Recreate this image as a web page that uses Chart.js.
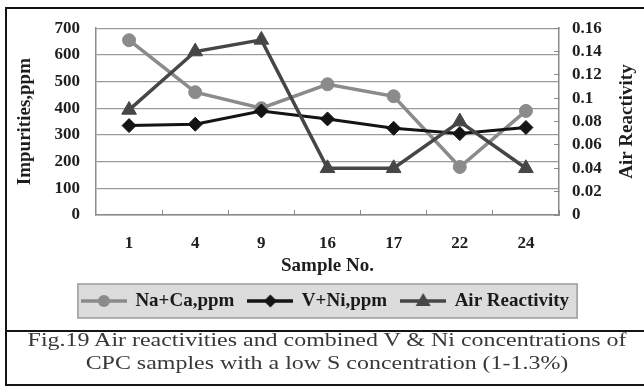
<!DOCTYPE html>
<html>
<head>
<meta charset="utf-8">
<script src="https://cdn.jsdelivr.net/npm/chart.js@4.4.1/dist/chart.umd.min.js"></script>
<style>
  html, body { margin: 0; padding: 0; background: #fff; }
  #wrap { position: relative; width: 644px; height: 386px; overflow: hidden; background: #fff; }
  #chart { position: absolute; left: 0; top: 0; }
  .rule { position: absolute; background: #141414; }
  #caption {
    position: absolute; left: 5px; width: 644px; top: 329px;
    text-align: center; color: #383838;
    font-family: 'Liberation Serif', 'Times New Roman', serif;
    font-size: 18px; line-height: 23px; white-space: nowrap;
    transform: scaleX(1.33); transform-origin: 50% 50%;
  }
</style>
</head>
<body>
<div id="wrap">
  <canvas id="chart" width="644" height="386"></canvas>
  <div class="rule" style="left:5px;top:7px;width:639px;height:2px"></div>
  <div class="rule" style="left:5px;top:7px;width:2px;height:379px"></div>
  <div class="rule" style="left:5px;top:330px;width:639px;height:2px"></div>
  <div class="rule" style="left:5px;top:384px;width:639px;height:2px"></div>
  <div id="caption">Fig.19 Air reactivities and combined V &amp; Ni concentrations of<br>CPC samples with a low S concentration (1-1.3%)</div>
</div>
<script>
// Sample numbers along the x axis
const sampleNos = ['1', '4', '9', '16', '17', '22', '24'];
// Impurities (ppm), left axis
const naCa = [655, 460, 400, 490, 445, 180, 390];
const vNi = [335, 340, 390, 360, 325, 305, 328];
// Air reactivity, right axis
const airReactivity = [0.09, 0.14, 0.15, 0.04, 0.04, 0.08, 0.04];
// Axis tick labels
const leftTickLabels = ['0', '100', '200', '300', '400', '500', '600', '700'];
const rightTickLabels = ['0', '0.02', '0.04', '0.06', '0.08', '0.1', '0.12', '0.14', '0.16'];

const SERIF = "'Liberation Serif', 'Times New Roman', serif";
const COL_NACA = '#8b8b8b';
const COL_VNI = '#141414';
const COL_AIR = '#464646';

Chart.defaults.font.family = SERIF;
Chart.defaults.color = '#1e1e1e';

// Small line-with-marker swatch used as a legend symbol
function swatch(color, style) {
  const c = document.createElement('canvas');
  c.width = 46; c.height = 18;
  const g = c.getContext('2d');
  g.strokeStyle = color; g.fillStyle = color; g.lineWidth = 3.5;
  g.beginPath(); g.moveTo(0, 9); g.lineTo(46, 9); g.stroke();
  g.beginPath();
  if (style === 'circle') {
    g.arc(23, 9, 6, 0, Math.PI * 2);
  } else if (style === 'diamond') {
    g.moveTo(23, 2.5); g.lineTo(29.5, 9); g.lineTo(23, 15.5); g.lineTo(16.5, 9); g.closePath();
  } else {
    g.moveTo(23, 1); g.lineTo(30.5, 14); g.lineTo(15.5, 14); g.closePath();
  }
  g.fill();
  return c;
}
const legendSymbols = [swatch(COL_NACA, 'circle'), swatch(COL_VNI, 'diamond'), swatch(COL_AIR, 'triangle')];

// Grey panel behind the legend row
const legendFrame = {
  id: 'legendFrame',
  beforeDraw(chart) {
    const hb = chart.legend && chart.legend.legendHitBoxes;
    if (!hb || !hb.length) return;
    const left = Math.min(...hb.map(h => h.left)) - 4;
    const right = Math.max(...hb.map(h => h.left + h.width)) + 8;
    const top = hb[0].top - 7.5;
    const bottom = hb[0].top + hb[0].height + 7.5;
    const ctx = chart.ctx;
    ctx.save();
    ctx.fillStyle = '#dcdcdc';
    ctx.fillRect(left, top, right - left, bottom - top);
    ctx.strokeStyle = '#9a9a9a';
    ctx.lineWidth = 1.5;
    ctx.strokeRect(left, top, right - left, bottom - top);
    ctx.restore();
  }
};

// Right-hand axis title, reading bottom to top
const rightTitle = {
  id: 'rightTitle',
  afterDraw(chart) {
    const s = chart.scales.y1;
    const ctx = chart.ctx;
    ctx.save();
    ctx.translate(s.right - 17, (chart.chartArea.top + chart.chartArea.bottom) / 2);
    ctx.rotate(-Math.PI / 2);
    ctx.font = 'bold 19px ' + SERIF;
    ctx.fillStyle = '#1e1e1e';
    ctx.textAlign = 'center';
    ctx.textBaseline = 'middle';
    ctx.fillText('Air Reactivity', 0, 0);
    ctx.restore();
  }
};

new Chart(document.getElementById('chart'), {
  type: 'line',
  data: {
    labels: sampleNos,
    datasets: [
      {
        label: 'Na+Ca,ppm', data: naCa, yAxisID: 'y', order: 3,
        borderColor: COL_NACA, backgroundColor: COL_NACA, borderWidth: 3.5,
        pointStyle: 'circle', pointRadius: 6.5, pointBorderWidth: 1
      },
      {
        label: 'V+Ni,ppm', data: vNi, yAxisID: 'y', order: 2,
        borderColor: COL_VNI, backgroundColor: COL_VNI, borderWidth: 3,
        pointStyle: 'rectRot', pointRadius: 7, pointBorderWidth: 1
      },
      {
        label: 'Air Reactivity', data: airReactivity, yAxisID: 'y1', order: 1,
        borderColor: COL_AIR, backgroundColor: COL_AIR, borderWidth: 3.5,
        pointStyle: 'triangle', pointRadius: 8.5, pointBorderWidth: 1
      }
    ]
  },
  options: {
    responsive: false,
    animation: false,
    events: [],
    layout: { padding: { left: 7, right: 0, top: 20, bottom: 65.5 } },
    plugins: {
      tooltip: { enabled: false },
      legend: {
        position: 'bottom',
        labels: {
          usePointStyle: true,
          pointStyleWidth: 44,
          padding: 14,
          color: '#1a1a1a',
          font: { size: 19, weight: 'bold', family: SERIF },
          sort: (a, b) => a.datasetIndex - b.datasetIndex,
          generateLabels(chart) {
            const items = Chart.defaults.plugins.legend.labels.generateLabels(chart);
            items.forEach(it => { it.pointStyle = legendSymbols[it.datasetIndex]; });
            return items;
          }
        }
      }
    },
    scales: {
      x: {
        type: 'category',
        offset: true,
        afterFit: s => { s.height = 62.5; },
        grid: { offset: true, drawOnChartArea: false, drawTicks: true, tickLength: -5, color: '#8a8a8a', lineWidth: 1 },
        border: { display: true, color: '#8a8a8a', width: 1.5 },
        ticks: { padding: 23, autoSkip: false, maxRotation: 0, color: '#1e1e1e', font: { size: 17, weight: 'bold' } },
        title: {
          display: true, text: 'Sample No.', color: '#1e1e1e',
          font: { size: 19, weight: 'bold' }, padding: { top: 0, bottom: 0 }
        }
      },
      y: {
        position: 'left',
        min: 0, max: 700,
        afterFit: s => { s.width = 89; },
        grid: { drawTicks: false, color: '#9a9a9a', lineWidth: 1.3 },
        border: { display: true, color: '#8a8a8a', width: 1.5 },
        ticks: {
          stepSize: 100, autoSkip: false, padding: 16, color: '#1e1e1e',
          font: { size: 17, weight: 'bold' },
          callback: (v, i) => leftTickLabels[i]
        },
        title: {
          display: true, text: 'Impurities,ppm', color: '#1e1e1e',
          font: { size: 19, weight: 'bold' }, padding: { top: 7, bottom: 0 }
        }
      },
      y1: {
        position: 'right',
        min: 0, max: 0.16,
        afterFit: s => { s.width = 85; },
        grid: { drawOnChartArea: false, drawTicks: true, tickLength: -5, color: '#8a8a8a', lineWidth: 1 },
        border: { display: true, color: '#8a8a8a', width: 1.5 },
        ticks: {
          stepSize: 0.02, autoSkip: false, padding: 18, color: '#1e1e1e',
          font: { size: 17, weight: 'bold' },
          callback: (v, i) => rightTickLabels[i]
        }
      }
    }
  },
  plugins: [legendFrame, rightTitle]
});
</script>
</body>
</html>
